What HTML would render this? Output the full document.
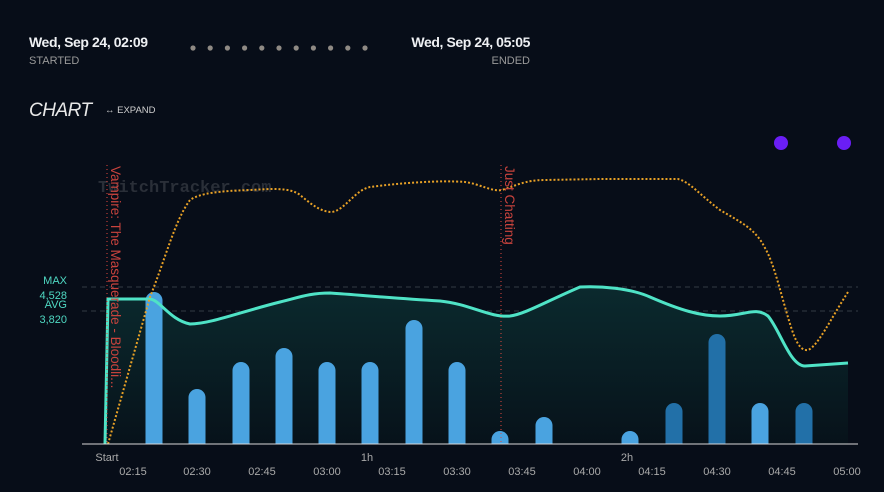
<!DOCTYPE html>
<html><head><style>
body{margin:0;background:#070d18;width:884px;height:492px;overflow:hidden;font-family:"Liberation Sans",sans-serif;}
</style></head><body>
<svg width="884" height="492" xmlns="http://www.w3.org/2000/svg" style="position:absolute;left:0;top:0">
<rect width="884" height="492" fill="#070d18"/>
<g font-family="Liberation Sans, sans-serif">
<text x="29" y="47" fill="#eef0f3" font-size="14" font-weight="bold" letter-spacing="-0.4">Wed, Sep 24, 02:09</text>
<text x="29" y="64" fill="#9a9a9a" font-size="11">STARTED</text>
<text x="530" y="47" fill="#eef0f3" font-size="14" font-weight="bold" text-anchor="end" letter-spacing="-0.4">Wed, Sep 24, 05:05</text>
<text x="530" y="64" fill="#9a9a9a" font-size="11" text-anchor="end">ENDED</text>
<g fill="#8f8a84">
<circle cx="193" cy="48" r="2.6"/><circle cx="210.2" cy="48" r="2.6"/><circle cx="227.4" cy="48" r="2.6"/><circle cx="244.6" cy="48" r="2.6"/><circle cx="261.8" cy="48" r="2.6"/><circle cx="279" cy="48" r="2.6"/><circle cx="296.2" cy="48" r="2.6"/><circle cx="313.4" cy="48" r="2.6"/><circle cx="330.6" cy="48" r="2.6"/><circle cx="347.8" cy="48" r="2.6"/><circle cx="365" cy="48" r="2.6"/>
</g>
<text x="29" y="116" fill="#e8e8e8" font-size="19" font-style="italic" letter-spacing="-0.5">CHART</text>
<text x="105" y="113" fill="#cfcfcf" font-size="9.5">↔ EXPAND</text>
<text x="98" y="192" fill="#2a2f38" font-size="17" font-family="Liberation Mono, monospace" font-weight="bold">TwitchTracker.com</text>
<circle cx="781" cy="143" r="7" fill="#6a1ef5"/><circle cx="844" cy="143" r="7" fill="#6a1ef5"/>
<line x1="82" y1="287" x2="858" y2="287" stroke="#333a44" stroke-dasharray="5,4"/>
<line x1="82" y1="311" x2="858" y2="311" stroke="#333a44" stroke-dasharray="5,4"/>
<text x="67" y="284" fill="#4fd9c3" font-size="11" text-anchor="end">MAX</text>
<text x="67" y="299" fill="#4fd9c3" font-size="11" text-anchor="end">4,528</text>
<text x="67" y="308" fill="#4fd9c3" font-size="11" text-anchor="end">AVG</text>
<text x="67" y="323" fill="#4fd9c3" font-size="11" text-anchor="end">3,820</text>
<defs><linearGradient id="g" x1="0" y1="0" x2="0" y2="1"><stop offset="0" stop-color="#0b2a2e"/><stop offset="1" stop-color="#07121a"/></linearGradient></defs>
<path d="M105,444 L108,299 L150,299 C160,300 170,320 190,324 C210,324 240,312 280,302 C300,297 310,293 330,293 C360,295 390,298 440,301 C470,304 490,318 510,316 C525,314 545,302 580,287 C600,286 630,288 650,297 C680,310 700,316 720,316 C745,316 755,306 768,316 C780,330 790,366 805,366 L848,363 L848,444 Z" fill="url(#g)"/>
<g fill="#4aa3e0">
<path d="M145.5,444 V300.5 a8.5,8.5 0 0 1 17,0 V444Z"/>
<path d="M188.5,444 V397.5 a8.5,8.5 0 0 1 17,0 V444Z"/>
<path d="M232.5,444 V370.5 a8.5,8.5 0 0 1 17,0 V444Z"/>
<path d="M275.5,444 V356.5 a8.5,8.5 0 0 1 17,0 V444Z"/>
<path d="M318.5,444 V370.5 a8.5,8.5 0 0 1 17,0 V444Z"/>
<path d="M361.5,444 V370.5 a8.5,8.5 0 0 1 17,0 V444Z"/>
<path d="M405.5,444 V328.5 a8.5,8.5 0 0 1 17,0 V444Z"/>
<path d="M448.5,444 V370.5 a8.5,8.5 0 0 1 17,0 V444Z"/>
<path d="M491.5,444 V439.5 a8.5,8.5 0 0 1 17,0 V444Z"/>
<path d="M535.5,444 V425.5 a8.5,8.5 0 0 1 17,0 V444Z"/>
<path d="M621.5,444 V439.5 a8.5,8.5 0 0 1 17,0 V444Z"/>
<path d="M751.5,444 V411.5 a8.5,8.5 0 0 1 17,0 V444Z"/>
</g>
<g fill="#2270a8">
<path d="M665.5,444 V411.5 a8.5,8.5 0 0 1 17,0 V444Z"/>
<path d="M708.5,444 V342.5 a8.5,8.5 0 0 1 17,0 V444Z"/>
<path d="M795.5,444 V411.5 a8.5,8.5 0 0 1 17,0 V444Z"/>
</g>
<path d="M105,444 L108,299 L150,299 C160,300 170,320 190,324 C210,324 240,312 280,302 C300,297 310,293 330,293 C360,295 390,298 440,301 C470,304 490,318 510,316 C525,314 545,302 580,287 C600,286 630,288 650,297 C680,310 700,316 720,316 C745,316 755,306 768,316 C780,330 790,366 805,366 L848,363" fill="none" stroke="#4fe3c6" stroke-width="3"/>
<path d="M108,444 L150,297 C165,260 175,220 190,200 C200,193 220,191 250,190 C270,189 290,187 300,195 C310,203 320,212 332,212 C345,210 355,190 370,187 C400,183 440,180 465,182 C480,184 492,192 502,190 C515,186 525,180 545,180 L600,179 L678,179 C690,182 700,195 720,210 C740,222 755,228 765,248 C775,265 782,300 792,330 C797,345 802,351 808,350 C818,346 830,320 848,292" fill="none" stroke="#e8a126" stroke-width="2" stroke-dasharray="2,2"/>
<line x1="107" y1="165" x2="107" y2="444" stroke="#e0483e" stroke-width="1" stroke-dasharray="1,3"/>
<line x1="501" y1="165" x2="501" y2="444" stroke="#e0483e" stroke-width="1" stroke-dasharray="1,3"/>
<text transform="translate(111,166) rotate(90)" fill="#c9433d" font-size="13.5">Vampire: The Masquerade - Bloodli...</text>
<text transform="translate(505,166) rotate(90)" fill="#c9433d" font-size="13.5">Just Chatting</text>
<line x1="82" y1="444" x2="858" y2="444" stroke="#d8d8d8" stroke-width="1"/>
<g fill="#a9a9a9" font-size="11" text-anchor="middle">
<text x="107" y="461">Start</text><text x="367" y="461">1h</text><text x="627" y="461">2h</text>
<text x="133" y="475">02:15</text><text x="197" y="475">02:30</text><text x="262" y="475">02:45</text><text x="327" y="475">03:00</text><text x="392" y="475">03:15</text><text x="457" y="475">03:30</text><text x="522" y="475">03:45</text><text x="587" y="475">04:00</text><text x="652" y="475">04:15</text><text x="717" y="475">04:30</text><text x="782" y="475">04:45</text><text x="847" y="475">05:00</text>
</g>
</g>
</svg>
</body></html>
